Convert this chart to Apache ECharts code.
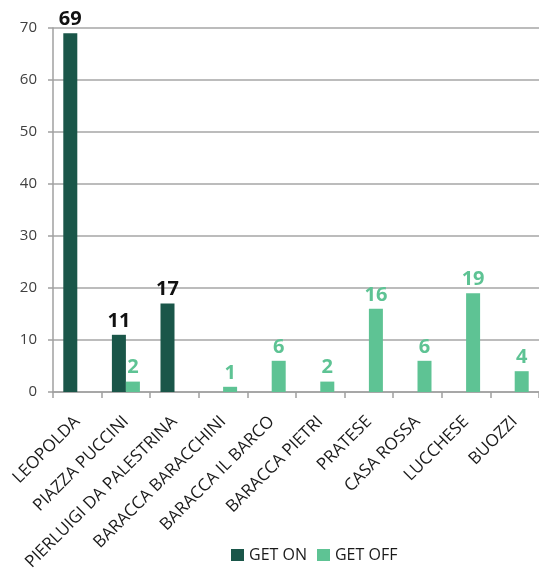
<!DOCTYPE html>
<html>
<head>
<meta charset="utf-8">
<script src="https://cdn.jsdelivr.net/npm/echarts@6/dist/echarts.min.js"></script>
<style>
  html, body { margin: 0; padding: 0; background: #fff; }
  #chart { width: 539px; height: 583px; }
</style>
</head>
<body>
<div id="chart"></div>
<script>
// Bus stops along the route
const stops = ['LEOPOLDA', 'PIAZZA PUCCINI', 'PIERLUIGI DA PALESTRINA', 'BARACCA BARACCHINI',
  'BARACCA IL BARCO', 'BARACCA PIETRI', 'PRATESE', 'CASA ROSSA', 'LUCCHESE', 'BUOZZI'];
// Passengers boarding / leaving at each stop (null = none)
const getOn = [69, 11, 17, null, null, null, null, null, null, null];
const getOff = [null, 2, null, 1, 6, 2, 16, 6, 19, 4];
// Value axis range
const yMin = 0, yMax = 70, yStep = 10;

const DARK = '#1a5649';
const LIGHT = '#5ec394';
const FONT = '"Open Sans", "Noto Sans", sans-serif';

const chart = echarts.init(document.getElementById('chart'));
chart.setOption({
  animation: false,
  textStyle: { fontFamily: FONT },
  grid: { left: 53, right: -3, top: 28, bottom: 191, containLabel: false },
  legend: {
    left: 226, top: 542,
    itemWidth: 13, itemHeight: 12, itemGap: 10,
    icon: 'rect',
    textStyle: { fontSize: 16, color: '#1a1a1a', fontFamily: FONT },
    data: ['GET ON', 'GET OFF']
  },
  xAxis: {
    type: 'category',
    data: stops,
    axisLine: { lineStyle: { color: '#a0a0a0', width: 1.5 } },
    axisTick: { show: true, length: 6, lineStyle: { color: '#a0a0a0', width: 1.5 } },
    axisLabel: { interval: 0, rotate: 45, fontSize: 17, color: '#1a1a1a', margin: 27, fontFamily: FONT }
  },
  yAxis: {
    type: 'value',
    min: yMin, max: yMax, interval: yStep,
    axisLine: { show: true, lineStyle: { color: '#a0a0a0', width: 1.5 } },
    axisTick: { show: true, length: 5, lineStyle: { color: '#a0a0a0', width: 1.5 } },
    splitLine: { lineStyle: { color: '#a6a6a6', width: 1.5 } },
    axisLabel: { fontSize: 15, color: '#404040', margin: 16, fontFamily: FONT }
  },
  series: [
    {
      name: 'GET ON', type: 'bar', data: getOn,
      barWidth: 14, barGap: '0%',
      itemStyle: { color: DARK },
      label: { show: true, position: 'top', distance: 4, fontSize: 20, fontWeight: 'bold', color: '#111', fontFamily: FONT }
    },
    {
      name: 'GET OFF', type: 'bar', data: getOff,
      barWidth: 14,
      itemStyle: { color: LIGHT },
      label: { show: true, position: 'top', distance: 4, fontSize: 20, fontWeight: 'bold', color: LIGHT, fontFamily: FONT }
    }
  ]
});
</script>
</body>
</html>
